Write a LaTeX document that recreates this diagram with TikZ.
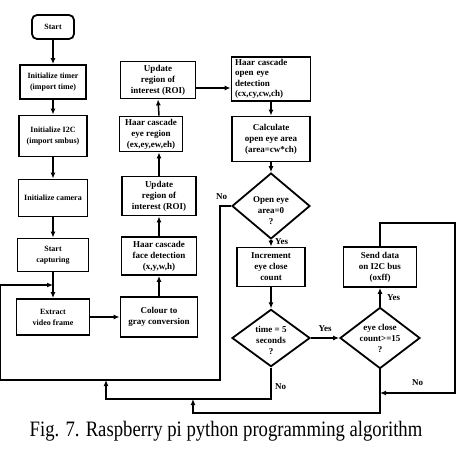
\documentclass[tikz,border=0pt]{standalone}
\usepackage{fontspec}
\setmainfont{Liberation Serif}
\newfontfamily\capfont[FakeStretch=0.85]{Liberation Serif}
\usetikzlibrary{arrows.meta, positioning, calc, shapes.geometric}

\begin{document}
\begin{tikzpicture}[x=1pt, y=-1pt,
        box/.style={draw, line width=1.8pt, align=center, inner sep=1pt,
            font=\bfseries\fontsize{9}{11}\selectfont},
        lbox/.style={box, font=\bfseries\fontsize{8}{11}\selectfont},
        decision/.style={draw, diamond, line width=1.8pt, align=center, inner sep=-2pt,
            font=\bfseries\fontsize{9}{11}\selectfont},
        flow/.style={line width=1.5pt, -{Latex[length=6pt, width=5pt]}},
        lab/.style={font=\bfseries\fontsize{9}{11}\selectfont}]

        \useasboundingbox (0,0) rectangle (466,452);

        \node[lbox, rounded corners=5pt, minimum width=42, minimum height=24] (start) at (53,27) {Start};
        \node[lbox, minimum width=66, minimum height=34] (timer) at (53,82) {Initialize timer\\(import time)};
        \node[lbox, minimum width=68, minimum height=41] (itwoc) at (53,136) {Initialize I2C\\(import smbus)};
        \node[lbox, minimum width=69, minimum height=37] (camera) at (53,198) {Initialize camera};
        \node[lbox, minimum width=71, minimum height=33] (capture) at (53,255) {Start\\capturing};
        \node[lbox, minimum width=73, minimum height=36] (extract) at (53,317) {Extract\\video frame};

        \node[box, minimum width=77, minimum height=40] (gray) at (159,317) {Colour to\\gray conversion};
        \node[box, minimum width=75, minimum height=38] (face) at (159,256) {Haar cascade\\face detection\\(x,y,w,h)};
        \node[box, minimum width=74, minimum height=39] (roilow) at (159,196) {Update\\region of\\interest (ROI)};
        \node[box, minimum width=63, minimum height=35] (eye) at (151,134) {Haar cascade\\eye region\\(ex,ey,ew,eh)};
        \node[box, minimum width=75, minimum height=37] (roitop) at (158,80) {Update\\region of\\interest (ROI)};

        \node[box, align=left, minimum width=79, minimum height=44, text width=72,
            font=\bfseries\fontsize{9}{10.5}\selectfont] (openeye) at (271,79) {Haar cascade\\open eye\\detection\\(cx,cy,cw,ch)};
        \node[box, minimum width=78, minimum height=45] (area) at (271,139) {Calculate\\open eye area\\(area=cw*ch)};
        \node[decision, minimum width=78, minimum height=48] (dzero) at (271,206) {\rule{0pt}{16pt}Open eye\\area=0\\?};
        \node[box, minimum width=68, minimum height=39] (incr) at (271,267) {Increment\\eye close\\count};
        \node[decision, minimum width=78, minimum height=50] (dtime) at (271,338) {\rule{0pt}{12pt}time = 5\\seconds\\?};

        \node[decision, minimum width=80, minimum height=53] (dcount) at (380,338) {eye close\\count>=15\\?};
        \node[box, minimum width=73, minimum height=40] (send) at (380,267) {Send data\\on I2C bus\\(oxff)};

        \node[font=\capfont\fontsize{22}{26}\selectfont, anchor=base] (caption) at (226,436) {Fig. 7. Raspberry pi python programming algorithm};

        \coordinate (entry) at (53,285);
        \coordinate (nzero) at (220,380);
        \coordinate (farleft) at (0.5,380);
        \coordinate (ntime) at (106,399);
        \coordinate (mtime) at (106,380);
        \coordinate (ncount) at (193,413);
        \coordinate (mcount) at (193,399);
        \coordinate (loopup) at (380,223);
        \coordinate (loopright) at (455,393);
        \coordinate (loopin) at (380,393);

        \draw[flow] (start) -- (timer);
        \draw[flow] (timer) -- (itwoc);
        \draw[flow] (itwoc) -- (camera);
        \draw[flow] (camera) -- (capture);
        \draw[flow] (capture) -- (extract);
        \draw[flow] (extract) -- (gray);
        \draw[flow] (gray) -- (face);
        \draw[flow] (face) -- (roilow);
        \draw[flow] (roilow.north) -- (roilow.north |- eye.south);
        \draw[flow] (roilow.north |- eye.north) -- (roitop.south);
        \draw[flow] ([yshift=-8pt]roitop.east) -- ([yshift=-8pt]roitop.east -| openeye.west);
        \draw[flow] (openeye) -- (area);
        \draw[flow] (area) -- (dzero);
        \draw[flow] (dzero) -- node[lab, pos=0.25, right] {Yes} (incr);
        \draw[flow] (incr) -- (dtime);
        \draw[flow] (dtime) -- node[lab, above=2pt] {Yes} (dcount);
        \draw[flow] (dcount) -- node[lab, right=3pt] {Yes} (send);

        \draw[flow] (dzero.west) node[lab, above left=2pt and 0pt] {No} -| (nzero) -- (farleft) |- (entry);
        \draw[flow] (dtime.south) |- node[lab, pos=0.3, right] {No} (ntime) -- (mtime);
        \draw[flow] (dcount.south) |- (ncount) -- (mcount);
        \draw[flow] (send.north) -- (loopup) -| (loopright) -- node[lab, above=3pt] {No} (loopin);
\end{tikzpicture}
\end{document}
